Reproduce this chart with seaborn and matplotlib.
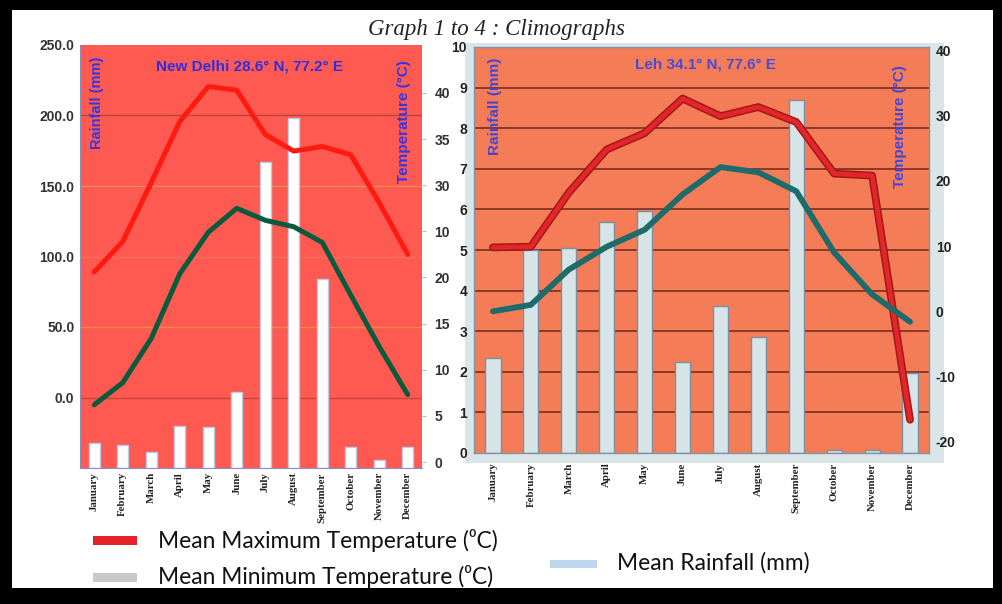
import numpy as np
import pandas as pd
import seaborn as sns
import matplotlib.pyplot as plt
import matplotlib.patheffects as pe
from matplotlib.patches import Rectangle

months = ['January', 'February', 'March', 'April', 'May', 'June', 'July',
          'August', 'September', 'October', 'November', 'December']

delhi_rain = [18, 16, 11, 30, 29, 54, 217, 248, 134, 15, 6, 15]
delhi_tmax = [20.6, 23.9, 30.3, 36.9, 40.7, 40.3, 35.5, 33.7, 34.2, 33.3, 28.1, 22.5]
delhi_tmin = [6.2, 8.6, 13.4, 20.4, 24.9, 27.5, 26.2, 25.5, 23.8, 18.1, 12.5, 7.3]
delhi_rain_labels = ['0.0', '50.0', '100.0', '150.0', '200.0', '250.0']
delhi_temp_ticks = [0, 5, 10, 15, 20, 25, 30, 35, 40]
delhi_temp_labels = ['0', '5', '10', '15', '20', '10', '30', '35', '40']  # sic, as printed

# Leh
leh_rain = [2.35, 5.0, 5.06, 5.68, 5.95, 2.25, 3.63, 2.86, 8.69, 0.07, 0.07, 1.98]
leh_tmax = [9.8, 9.9, 18.2, 24.8, 27.3, 32.6, 29.9, 31.3, 29.0, 21.1, 20.8, -16.6]
leh_tmin = [0.0, 1.0, 6.4, 9.9, 12.5, 17.9, 22.1, 21.3, 18.4, 9.0, 2.6, -1.6]
leh_rain_ticks = list(range(0, 11))
leh_temp_ticks = [-20, -10, 0, 10, 20, 30, 40]

sns.set_style('white')
plt.rcParams['font.family'] = ['Liberation Sans', 'DejaVu Sans']

fig = plt.figure(figsize=(10.03, 6.04), dpi=100)
fig.patch.set_facecolor('white')

xpos = np.arange(len(months))
df_delhi = pd.DataFrame({'month': months, 'rain': delhi_rain})
df_leh = pd.DataFrame({'month': months, 'rain': leh_rain})

# ---------------- New Delhi ----------------
ax1 = fig.add_axes([80 / 1003, 1 - 468 / 604, 342 / 1003, 423 / 604])
ax1.set_facecolor('#FF5A52')
# gridlines as they appear in the scan (label positions are offset by 50 mm)
grid_cols = ['#C9453F', '#E98A45', '#F36C5C', '#E98A45', '#B5433E']
for v, c in zip([50, 100, 150, 200, 250], grid_cols):
    ax1.axhline(v, color=c, lw=1, zorder=0.5)
sns.barplot(data=df_delhi, x='month', y='rain', order=months, ax=ax1,
            color='white', edgecolor='#B9CBEA', linewidth=1, width=0.39,
            saturation=1, zorder=2)
ax1.set_ylim(0, 300)
ax1.set_xlim(-0.5, 11.5)
ax1.set_yticks(np.arange(50, 301, 50))
ax1.set_yticklabels(delhi_rain_labels, fontsize=10, fontweight='bold', color='#333333')
ax1.set_xticks(xpos)
ax1.set_xticklabels(months, rotation=90, fontsize=7.8, fontweight='bold',
                    family='Liberation Serif', color='#222222')
ax1.tick_params(axis='both', length=0, pad=4)
ax1.tick_params(axis='x', pad=3)
ax1.set_xlabel('')
ax1.set_ylabel('')
for s in ['top', 'right']:
    ax1.spines[s].set_visible(False)
ax1.spines['left'].set_color('#8E8CB8')
ax1.spines['bottom'].set_color('#8C8CD0')

tx1 = ax1.twinx()
sns.lineplot(x=xpos, y=delhi_tmax, ax=tx1, color='#FF1A10', lw=3.6, legend=False)
sns.lineplot(x=xpos, y=delhi_tmin, ax=tx1, color='#0B5A3C', lw=3.6, legend=False)
tx1.set_ylim(-0.65, 45.2)
tx1.set_xlim(-0.5, 11.5)
tx1.set_yticks(delhi_temp_ticks)
tx1.set_yticklabels(delhi_temp_labels, fontsize=10, fontweight='bold', color='#333333')
tx1.tick_params(axis='y', length=3, color='#BBBBBB', pad=6)
for s in ['top', 'right', 'left', 'bottom']:
    tx1.spines[s].set_visible(False)

ax1.text(0.497, 0.95, 'New Delhi 28.6° N, 77.2° E', transform=ax1.transAxes,
         ha='center', va='center', fontsize=11, fontweight='bold', color='#2E2EE0')
ax1.text(0.05, 0.863, 'Rainfall (mm)', transform=ax1.transAxes, rotation=90,
         ha='center', va='center', fontsize=10.5, fontweight='bold', color='#3535E0')
ax1.text(0.947, 0.82, 'Temperature (°C)', transform=ax1.transAxes, rotation=90,
         ha='center', va='center', fontsize=11, fontweight='bold', color='#3535E0')

# ---------------- Leh ----------------
fig.patches.append(Rectangle((465 / 1003, 1 - 463 / 604), 479 / 1003, 420 / 604,
                             transform=fig.transFigure, facecolor='#D9E5E7',
                             edgecolor='none', zorder=-1))
ax2 = fig.add_axes([474 / 1003, 1 - 453 / 604, 455 / 1003, 406 / 604])
ax2.set_facecolor('#F47D57')
for v in leh_rain_ticks[1:-1]:
    ax2.axhline(v, color='#8A3A2A', lw=1.4, zorder=0.5)
sns.barplot(data=df_leh, x='month', y='rain', order=months, ax=ax2,
            color='#D6E4E8', edgecolor='#7D8EA3', linewidth=1, width=0.4,
            saturation=1, zorder=2)
ax2.set_ylim(0, 10)
ax2.set_xlim(-0.5, 11.5)
ax2.set_yticks(leh_rain_ticks)
ax2.set_yticklabels([str(v) for v in leh_rain_ticks], fontsize=10,
                    fontweight='bold', color='#222222')
ax2.set_xticks(xpos)
ax2.set_xticklabels(months, rotation=90, fontsize=7.8, fontweight='bold',
                    family='Liberation Serif', color='#222222')
ax2.tick_params(axis='y', length=0, pad=5)
ax2.tick_params(axis='x', length=0, pad=7)
ax2.set_xlabel('')
ax2.set_ylabel('')
for s in ax2.spines.values():
    s.set_color('#8393A6')
    s.set_linewidth(1)

tx2 = ax2.twinx()
sns.lineplot(x=xpos, y=leh_tmax, ax=tx2, color='#E3262A', lw=3.4, legend=False,
             path_effects=[pe.Stroke(linewidth=5.6, foreground='#A51818'), pe.Normal()])
sns.lineplot(x=xpos, y=leh_tmin, ax=tx2, color='#1D6B6A', lw=4.2, legend=False)
tx2.set_ylim(-21.7, 40.5)
tx2.set_xlim(-0.5, 11.5)
tx2.set_yticks(leh_temp_ticks)
tx2.set_yticklabels([str(v) for v in leh_temp_ticks], fontsize=10,
                    fontweight='bold', color='#222222')
tx2.tick_params(axis='y', length=0, pad=5)
for s in tx2.spines.values():
    s.set_visible(False)

ax2.text(0.508, 0.958, 'Leh 34.1° N, 77.6° E', transform=ax2.transAxes,
         ha='center', va='center', fontsize=11, fontweight='bold', color='#4B4BD6')
ax2.text(0.046, 0.855, 'Rainfall (mm)', transform=ax2.transAxes, rotation=90,
         ha='center', va='center', fontsize=11, fontweight='bold', color='#4545D8')
ax2.text(0.937, 0.805, 'Temperature (°C)', transform=ax2.transAxes, rotation=90,
         ha='center', va='center', fontsize=11, fontweight='bold', color='#4545D8')

# ---------------- titles / legend ----------------
fig.text(0.4945, 1 - 29 / 604, 'Graph 1 to 4 : Climographs', ha='center', va='center',
         fontsize=16.5, style='italic', family='Liberation Serif', color='#222222')

leg_font = ['Lato', 'DejaVu Sans']
legend_items = [
    ((93, 536, 44, 9), '#E8202A', (158, 540), 'Mean Maximum Temperature (⁰C)'),
    ((93, 573, 44, 9), '#C9C9C9', (158, 577), 'Mean Minimum Temperature (⁰C)'),
    ((550, 560, 47, 8), '#BDD7EE', (617, 563), 'Mean Rainfall (mm)'),
]
for (px, py, pw, ph), col, (tx_, ty_), label in legend_items:
    fig.patches.append(Rectangle((px / 1003, 1 - (py + ph) / 604), pw / 1003, ph / 604,
                                 transform=fig.transFigure, facecolor=col,
                                 edgecolor='none'))
    fig.text(tx_ / 1003, 1 - ty_ / 604, label, ha='left', va='center',
             fontsize=16.4, family=leg_font, color='#111111')

# black scan frame
for (bx, by, bw, bh) in [(0, 0, 12, 604), (0, 0, 1003, 10), (993, 0, 10, 604), (0, 588, 1003, 16)]:
    fig.patches.append(Rectangle((bx / 1003, 1 - (by + bh) / 604), bw / 1003, bh / 604,
                                 transform=fig.transFigure, facecolor='black',
                                 edgecolor='none', zorder=10))

fig.savefig('out.png', dpi=100)
